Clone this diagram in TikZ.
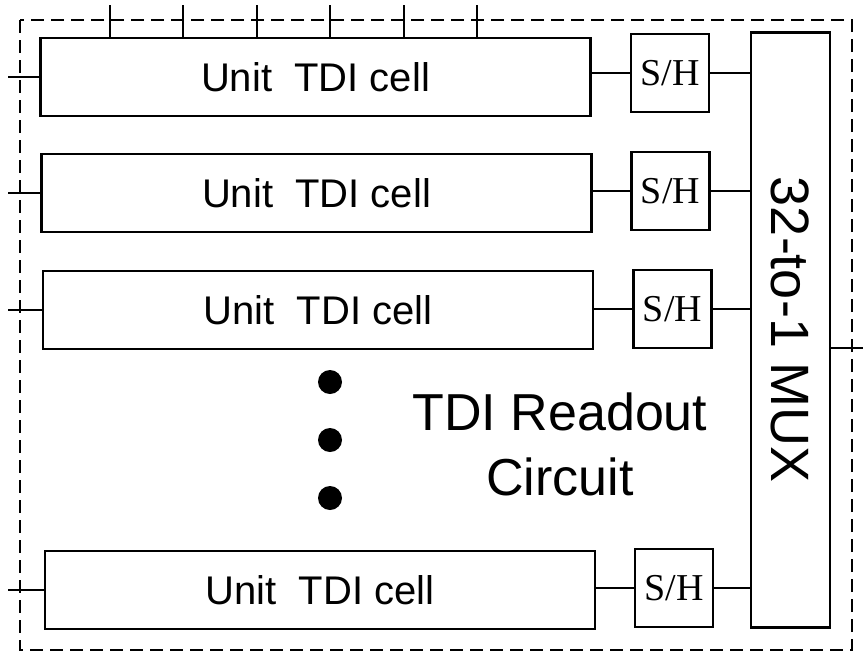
\documentclass[tikz,border=0pt]{standalone}
\usepackage{fontspec}
\setmainfont{Liberation Sans}
\newfontfamily\shfont{Liberation Serif}
\usetikzlibrary{positioning}

\begin{document}
\begin{tikzpicture}[x=1pt,y=-1pt,
  cell/.style={draw,line width=2.8pt,minimum width=550pt,minimum height=78pt,inner sep=0pt,
    font=\fontsize{40}{48}\selectfont},
  shbox/.style={draw,line width=2.8pt,minimum width=78pt,minimum height=78pt,inner sep=0pt,
    font=\shfont\fontsize{38}{44}\selectfont},
  wire/.style={line width=2.6pt},
  border/.style={line width=2pt,dash pattern=on 13pt off 7pt}]
\useasboundingbox (0,0) rectangle (863,654);
\draw[border] (20,20) rectangle (852,650);
% unit cells and sample/hold stages
\node[cell] (c1) at (315.5,77) {Unit\ \ TDI cell};
\node[cell] (c2) at (316.5,193) {Unit\ \ TDI cell};
\node[cell] (c3) at (318,310) {Unit\ \ TDI cell};
\node[cell] (c4) at (320,590) {Unit\ \ TDI cell};
\node[shbox] (sh1) at (670,73) {S/H};
\node[shbox] (sh2) at (670.5,191) {S/H};
\node[shbox] (sh3) at (672.5,309) {S/H};
\node[shbox] (sh4) at (674,588) {S/H};
\node[draw,line width=2.8pt,minimum width=79pt,minimum height=595pt,inner sep=0pt] (mux) at (790.5,330) {};
\node[rotate=-90,font=\fontsize{54}{60}\selectfont] (muxlabel) at (790,330) {32-to-1 MUX};
\foreach \i in {1,...,4}{
  \draw[wire] (sh\i.west -| c\i.east) -- (sh\i.west);
  \draw[wire] (sh\i.east) -- (sh\i.east -| mux.west);
  \coordinate (in\i) at (8,0 |- c\i.west);
  \draw[wire] (in\i) -- (c\i.west);
}
% clock / control lines on top
\foreach \x in {110,183,257,330,404,477}{
  \coordinate (t) at (\x,5);
  \draw[wire] (t) -- (t |- c1.north);
}
\coordinate (out) at (863,348);
\draw[wire] (mux.east |- out) -- (out);
% dots
\foreach \y in {382,440,498}
  \fill (330,\y) circle (12pt);
\node[anchor=base,font=\fontsize{52}{60}\selectfont] (title1) at (560,430) {TDI Readout};
\node[anchor=base,font=\fontsize{52}{60}\selectfont] (title2) at (560,495) {Circuit};
\end{tikzpicture}
\end{document}
